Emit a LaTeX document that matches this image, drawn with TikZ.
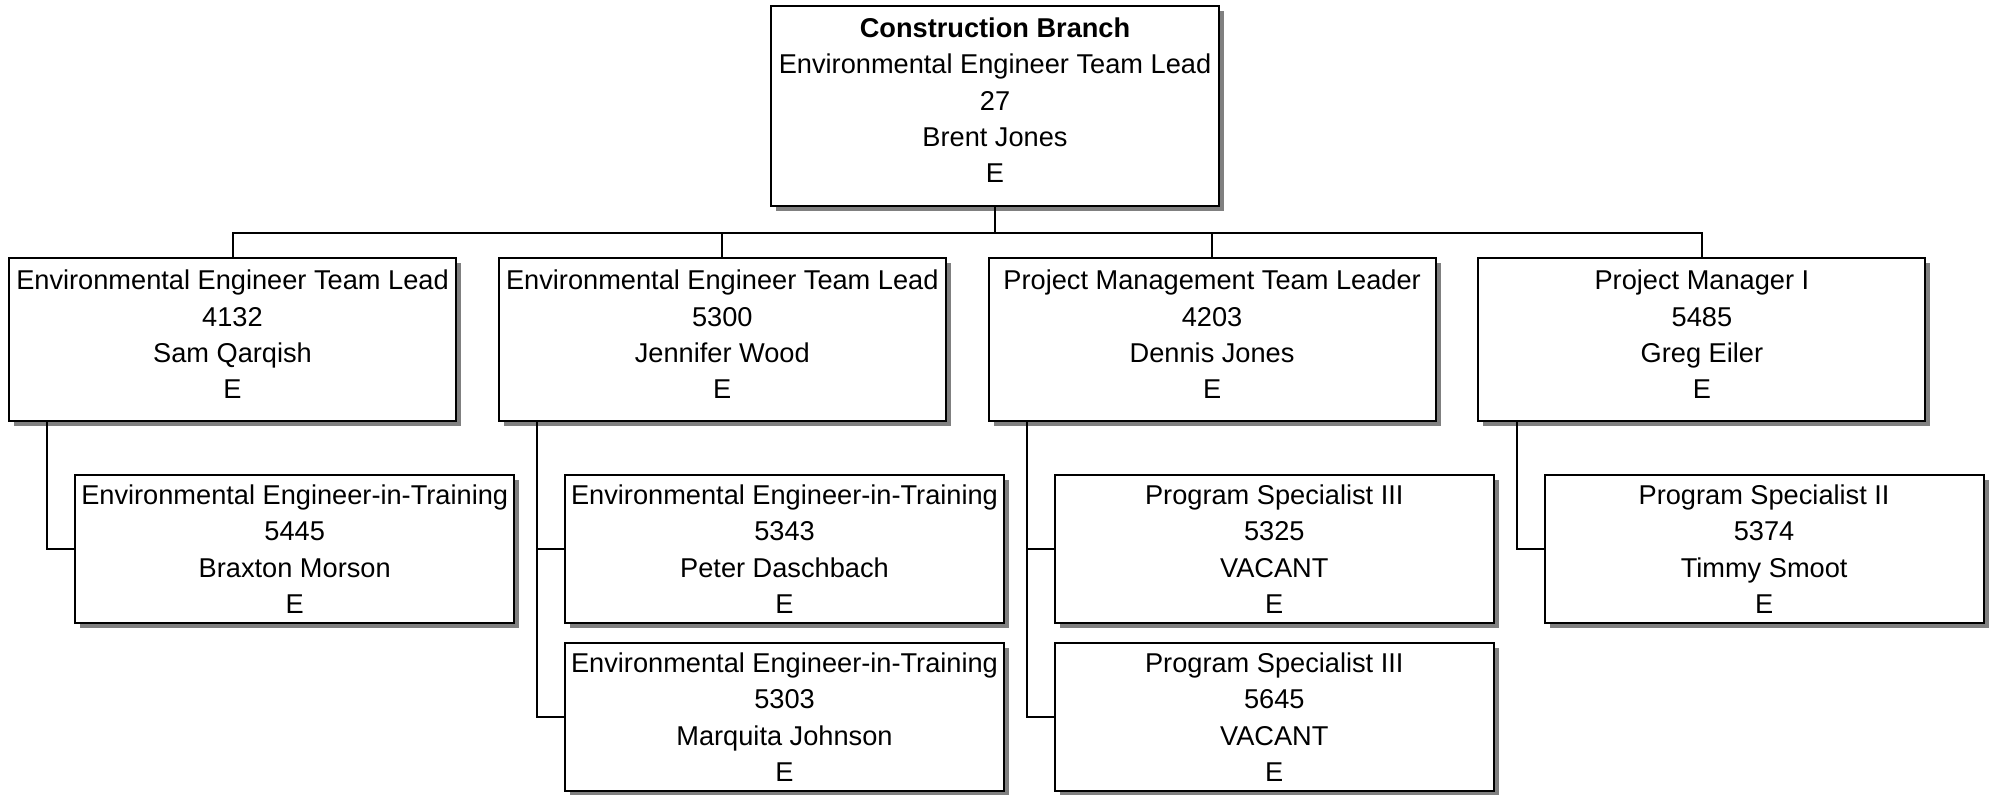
\documentclass[tikz,border=0pt]{standalone}
\usepackage{fontspec}
\setmainfont{Liberation Sans}
\usetikzlibrary{shadows}
\definecolor{shadowgray}{HTML}{808080}
\tikzset{
  orgbox/.style={draw=black, line width=1pt, fill=white, inner sep=0pt,
    drop shadow={shadow xshift=2.5pt, shadow yshift=-2.5pt, fill=shadowgray, opacity=1}},
  topbox/.style={orgbox, minimum width=224pt, minimum height=100pt},
  lonebox/.style={orgbox, minimum width=223.5pt, minimum height=81.5pt},
  childbox/.style={orgbox, minimum width=219.5pt, minimum height=74pt, align=center,
    font=\fontsize{13.6}{18.15}\selectfont},
  boxtext/.style={align=center, inner sep=0pt, font=\fontsize{13.6}{18.15}\selectfont},
  conn/.style={draw=black, line width=1pt}
}
\begin{document}
\begin{tikzpicture}[x=0.5pt, y=-0.5pt]
\useasboundingbox (0,0) rectangle (1995,794);
% top
\node[topbox] (top) at (995,106) {};
\node[boxtext] (toptext) at ([yshift=2.8pt]top.center) {\textbf{Construction Branch}\\Environmental Engineer Team Lead\\27\\Brent Jones\\E};
% level 1
\node[lonebox] (la) at (232.5,339.5) {};
\node[lonebox] (lb) at (722.3,339.5) {};
\node[lonebox] (lc) at (1212.1,339.5) {};
\node[lonebox] (ld) at (1701.9,339.5) {};
\node[boxtext] (latext) at ([yshift=2.5pt]la.center) {Environmental Engineer Team Lead\\4132\\Sam Qarqish\\E};
\node[boxtext] (lbtext) at ([yshift=2.5pt]lb.center) {Environmental Engineer Team Lead\\5300\\Jennifer Wood\\E};
\node[boxtext] (lctext) at ([yshift=2.5pt]lc.center) {Project Management Team Leader\\4203\\Dennis Jones\\E};
\node[boxtext] (ldtext) at ([yshift=2.5pt]ld.center) {Project Manager I\\5485\\Greg Eiler\\E};
% level 2
\node[childbox] (ca) at (294.7,549) {Environmental Engineer-in-Training\\5445\\Braxton Morson\\E};
\node[childbox] (cb1) at (784.5,549) {Environmental Engineer-in-Training\\5343\\Peter Daschbach\\E};
\node[childbox] (cb2) at (784.5,717) {Environmental Engineer-in-Training\\5303\\Marquita Johnson\\E};
\node[childbox] (cc1) at (1274.3,549) {Program Specialist III\\5325\\VACANT\\E};
\node[childbox] (cc2) at (1274.3,717) {Program Specialist III\\5645\\VACANT\\E};
\node[childbox] (cd) at (1764.1,549) {Program Specialist II\\5374\\Timmy Smoot\\E};
% connectors
\coordinate (bus) at (995,233);
\draw[conn] (top.south) -- (bus) -| (la.north);
\draw[conn] (bus) -| (lb.north);
\draw[conn] (bus) -| (lc.north);
\draw[conn] (bus) -| (ld.north);
\coordinate (ka) at ([xshift=19.7pt]la.south west);
\coordinate (kb) at ([xshift=19.7pt]lb.south west);
\coordinate (kc) at ([xshift=19.7pt]lc.south west);
\coordinate (kd) at ([xshift=19.7pt]ld.south west);
\draw[conn] (ka) |- (ca.west);
\draw[conn] (kb) |- (cb1.west);
\draw[conn] (kb) |- (cb2.west);
\draw[conn] (kc) |- (cc1.west);
\draw[conn] (kc) |- (cc2.west);
\draw[conn] (kd) |- (cd.west);
\end{tikzpicture}
\end{document}
